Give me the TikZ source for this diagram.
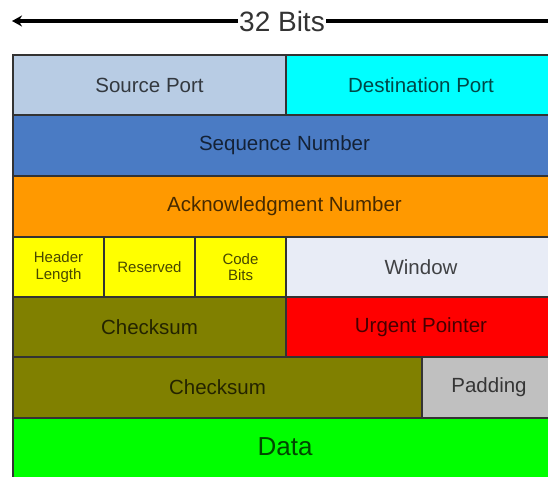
\documentclass[tikz,border=0pt]{standalone}
\usepackage{fontspec}
\setmainfont{Liberation Sans}
\usetikzlibrary{arrows.meta}
\definecolor{srcport}{HTML}{B8CCE4}
\definecolor{dstport}{HTML}{00FFFF}
\definecolor{seqnum}{HTML}{4A7BC4}
\definecolor{acknum}{HTML}{FF9900}
\definecolor{flagcell}{HTML}{FFFF00}
\definecolor{winfill}{HTML}{E8ECF6}
\definecolor{chkfill}{HTML}{808000}
\definecolor{urgfill}{HTML}{FF0000}
\definecolor{padfill}{HTML}{C0C0C0}
\definecolor{datafill}{HTML}{00FF00}
\tikzset{
  field/.style={draw=black!80, line width=2.2pt},
  label/.style={text=black, text opacity=0.72, font=\fontsize{20.5}{22}\selectfont},
  smalllabel/.style={label, font=\fontsize{15}{16.5}\selectfont, align=center},
}
\begin{document}
\begin{tikzpicture}[x=1pt,y=-1pt]
\useasboundingbox (0,0) rectangle (548,476);
% header arrow
\node[font=\fontsize{28}{30}\selectfont, text=black!80, inner sep=1pt] (bits) at (282,21) {32 Bits};
\coordinate (leftend) at (12,21);
\coordinate (rightend) at (552,21);
\draw[line width=4pt, -{Stealth[length=10pt,width=11pt]}] (bits.west) -- (leftend);
\draw[line width=4pt] (bits.east) -- (rightend);
% row 1
\path[field, fill=srcport] (13,55) rectangle node[label] (src) {Source Port} (286,115);
\path[field, fill=dstport] (286,55) rectangle node[label] (dst) {Destination Port} (556,115);
% row 2
\path[field, fill=seqnum] (13,115) rectangle node[label] (seq) {Sequence Number} (556,176);
% row 3
\path[field, fill=acknum] (13,176) rectangle node[label] (ack) {Acknowledgment Number} (556,237);
% row 4
\path[field, fill=flagcell] (13,237) rectangle node[smalllabel] (hlen) {Header\\Length} (104,297);
\path[field, fill=flagcell] (104,237) rectangle node[smalllabel] (resv) {Reserved} (195,297);
\path[field, fill=flagcell] (195,237) rectangle node[smalllabel] (code) {Code\\Bits} (286,297);
\path[field, fill=winfill] (286,237) rectangle node[label] (win) {Window} (556,297);
% row 5
\path[field, fill=chkfill] (13,297) rectangle node[label] (chk) {Checksum} (286,357);
\path[field, fill=urgfill] (286,297) rectangle node[label] (urg) {Urgent Pointer} (556,357);
% row 6
\path[field, fill=chkfill] (13,357) rectangle node[label] (opt) {Checksum} (422,418);
\path[field, fill=padfill] (422,357) rectangle node[label] (pad) {Padding} (556,418);
% row 7
\path[field, fill=datafill] (13,418) rectangle (556,480);
\node[label, font=\fontsize{26}{28}\selectfont] (data) at (285,447) {Data};
\end{tikzpicture}
\end{document}
